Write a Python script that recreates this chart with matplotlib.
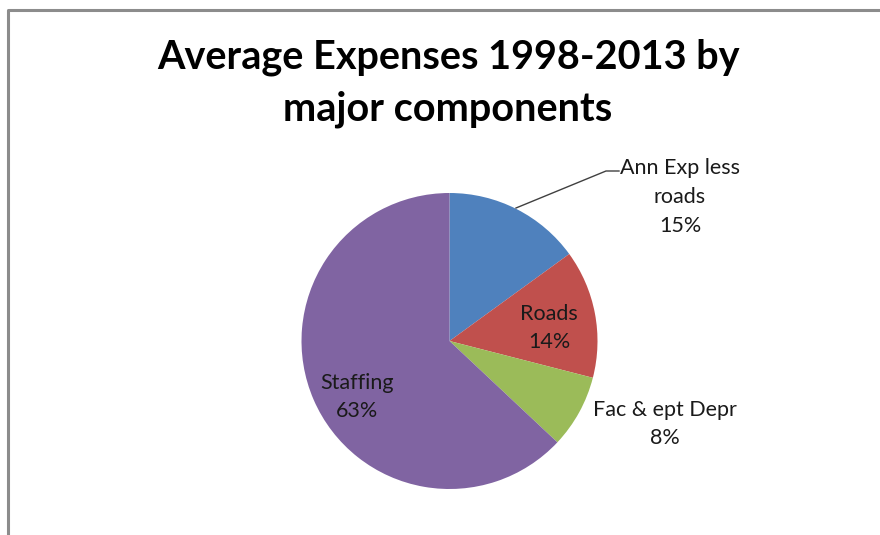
import matplotlib
matplotlib.use("Agg")
import matplotlib.pyplot as plt
from matplotlib.lines import Line2D

# data
categories = ["Ann Exp less\nroads", "Roads", "Fac & ept Depr", "Staffing"]
shares = [15, 14, 8, 63]
colors = ["#4F81BD", "#C0504D", "#9BBB59", "#8064A2"]
title_lines = ["Average Expenses 1998-2013 by", "major components"]

W, H = 880, 535
fig = plt.figure(figsize=(W / 100, H / 100), dpi=100)
ax = fig.add_axes([0, 0, 1, 1])

# chart frame (only top and left visible in the crop)
ax.add_line(Line2D([7.5, 7.5, W], [0, H - 9.5, H - 9.5], color="#8c8c8c", lw=2.2))

cx, cy, r = 449.5, H - 341, 148
ax.pie(shares, colors=colors, startangle=90, counterclock=False,
       center=(cx, cy), radius=r, frame=True,
       wedgeprops=dict(linewidth=0))
ax.set_xlim(0, W)
ax.set_ylim(0, H)
ax.set_aspect("equal")
ax.axis("off")

font = "Lato"
for txt, base in zip(title_lines, [69, 120]):
    ax.text(W / 2 + 8, H - base, txt, ha="center", va="baseline", fontsize=28.5,
            fontweight="bold", family=font)

# label positions (pixel coords, measured from top)
label_pos = [(680, 197), (549, 328), (665, 424), (357, 397)]
for name, val, (lx, ly) in zip(categories, shares, label_pos):
    ax.text(lx, H - ly, f"{name}\n{val}%", ha="center", va="center",
            fontsize=15.5, family=font, color="#1a1a1a", linespacing=1.55)

# leader line for first label
ax.add_line(Line2D([516, 606, 619], [H - 208, H - 171, H - 171], color="#404040", lw=1))

fig.savefig("out.png", dpi=100)
